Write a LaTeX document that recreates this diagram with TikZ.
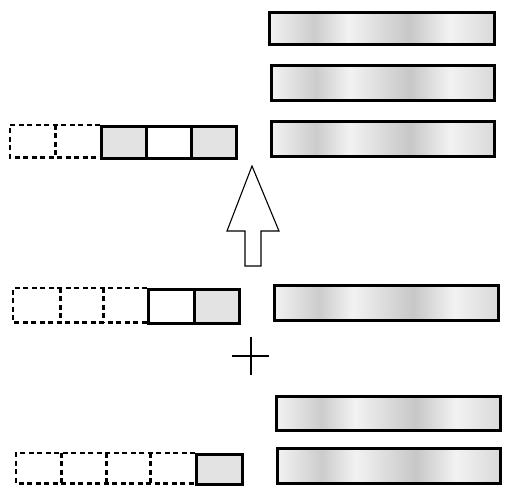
\documentclass[tikz,border=0pt]{standalone}
% stippled look of the long bars: pale ends, two faint darker patches
\pgfdeclarehorizontalshading{barshade}{100bp}{color(0bp)=(black!5); color(25bp)=(black!5); color(35bp)=(black!20); color(42.5bp)=(black!5); color(56bp)=(black!22); color(65bp)=(black!5); color(75bp)=(black!15); color(100bp)=(black!15)}
\tikzset{
  bar/.style={draw, line width=3.2pt, shading=barshade, inner sep=0pt, anchor=north west},
  cell/.style={draw, line width=2.8pt, inner sep=0pt, anchor=north west},
  fullcell/.style={cell, fill=black!11},
  ghost/.style={inner sep=0pt, anchor=north west},
  ghostline/.style={line width=2.5pt, dash pattern=on 5pt off 3.5pt},
  bigarrow/.style={draw, line width=1.1pt, line join=miter, fill=white},
  plusline/.style={line width=1.3pt}
}
\begin{document}
\begin{tikzpicture}[x=1pt,y=-1pt]
\useasboundingbox (0,0) rectangle (507,497);

% right-hand bars
\node[bar, minimum width=225pt, minimum height=32pt] (b1) at (268,11) {};
\node[bar, minimum width=223pt, minimum height=35pt] (b2) at (270,64) {};
\node[bar, minimum width=223pt, minimum height=35pt] (b3) at (270,120) {};
\node[bar, minimum width=224pt, minimum height=35pt] (b4) at (273,284) {};
\node[bar, minimum width=224pt, minimum height=34pt] (b5) at (275,395) {};
\node[bar, minimum width=223pt, minimum height=35pt] (b6) at (276,447) {};

% top row: two empty slots, three cells
\node[ghost, minimum width=45pt, minimum height=32pt] (ta) at (10,125) {};
\node[ghost, minimum width=45pt, minimum height=32pt] (tb) at (55,125) {};
\draw[ghostline] (tb.north east) -- (ta.north west) -- (ta.south west) -- (tb.south east);
\draw[ghostline] (ta.north east) -- (ta.south east);
\node[fullcell, minimum width=45pt, minimum height=32pt] (tc) at (100,125) {};
\node[cell, fill=white, minimum width=45pt, minimum height=32pt] (td) at (145,125) {};
\node[fullcell, minimum width=45pt, minimum height=32pt] (te) at (190,125) {};

% middle row: three empty slots, two cells
\node[ghost, minimum width=47pt, minimum height=34pt] (ma) at (13,288) {};
\node[ghost, minimum width=43pt, minimum height=34pt] (mb) at (60,288) {};
\node[ghost, minimum width=44pt, minimum height=34pt] (mc) at (103,288) {};
\draw[ghostline] (mc.north east) -- (ma.north west) -- (ma.south west) -- (mc.south east);
\draw[ghostline] (ma.north east) -- (ma.south east);
\draw[ghostline] (mb.north east) -- (mb.south east);
\node[cell, minimum width=46pt, minimum height=34pt] (md) at (147,288) {};
\node[fullcell, minimum width=45pt, minimum height=34pt] (me) at (193,288) {};

% bottom row: four empty slots, one cell
\node[ghost, minimum width=45pt, minimum height=30pt] (ba) at (16,453) {};
\node[ghost, minimum width=45pt, minimum height=30pt] (bb) at (61,453) {};
\node[ghost, minimum width=44pt, minimum height=30pt] (bc) at (106,453) {};
\node[ghost, minimum width=45pt, minimum height=30pt] (bd) at (150,453) {};
\draw[ghostline] (bd.north east) -- (ba.north west) -- (ba.south west) -- (bd.south east);
\draw[ghostline] (ba.north east) -- (ba.south east);
\draw[ghostline] (bb.north east) -- (bb.south east);
\draw[ghostline] (bc.north east) -- (bc.south east);
\node[fullcell, minimum width=46pt, minimum height=30pt] (be) at (195,453) {};

% hollow upward arrow
\draw[bigarrow] (252,166) -- (279,231) -- (261,231) -- (261,266) -- (245,266) -- (245,231) -- (227,231) -- cycle;

% plus sign
\draw[plusline] (232,356) -- (269,356);
\draw[plusline] (251,337) -- (251,375);
\end{tikzpicture}
\end{document}
